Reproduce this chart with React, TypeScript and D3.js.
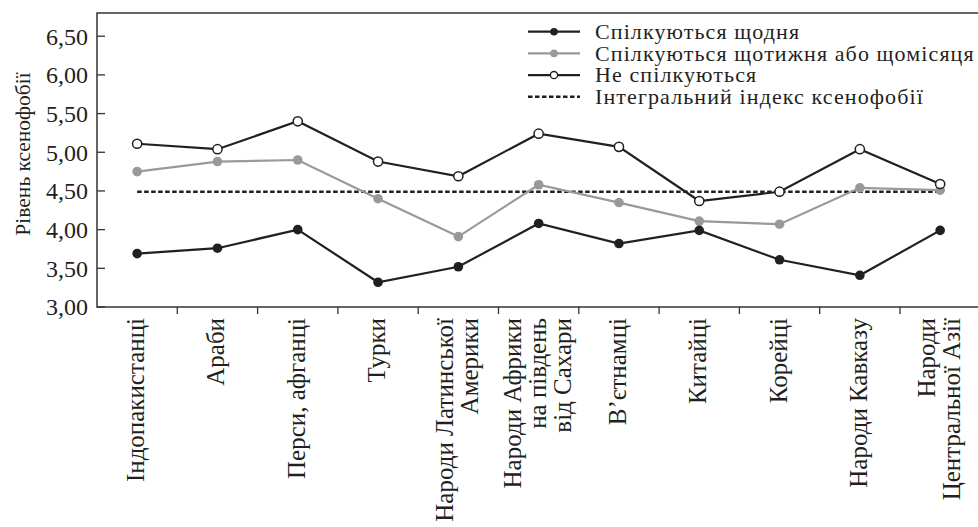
import * as d3 from 'd3';

const categories = [
  'Індопакистанці',
  'Араби',
  'Перси, афганці',
  'Турки',
  'Народи Латинської\nАмерики',
  'Народи Африки\nна південь\nвід Сахари',
  'В’єтнамці',
  'Китайці',
  'Корейці',
  'Народи Кавказу',
  'Народи\nЦентральної Азії',
];

const daily = [3.69, 3.76, 4.0, 3.32, 3.52, 4.08, 3.82, 3.99, 3.61, 3.41, 3.99];
const weekly = [4.75, 4.88, 4.9, 4.4, 3.91, 4.58, 4.35, 4.11, 4.07, 4.54, 4.51];
const never = [5.11, 5.04, 5.4, 4.88, 4.69, 5.24, 5.07, 4.37, 4.49, 5.04, 4.59];
const integralIndex = 4.49;

const yTicks = [3.0, 3.5, 4.0, 4.5, 5.0, 5.5, 6.0, 6.5];

const legendItems = [
  { label: 'Спілкуються щодня', kind: 'daily' },
  { label: 'Спілкуються щотижня або щомісяця', kind: 'weekly' },
  { label: 'Не спілкуються', kind: 'never' },
  { label: 'Інтегральний індекс ксенофобії', kind: 'index' },
];

const W = 978;
const H = 527;
const left = 97;
const top = 13;
const bottom = 307;
const bandW = 80.3;
const FONT = "'Liberation Serif', 'DejaVu Serif', serif";
const DARK = '#231f20';
const GREY = '#999999';

export default function App() {
  const x = d3.scaleBand<string>()
    .domain(categories)
    .range([left, left + bandW * categories.length]);
  const y = d3.scaleLinear().domain([3, 6.8]).range([bottom, top]);
  const cx = (i: number) => (x(categories[i]) as number) + x.bandwidth() / 2;

  const line = d3.line<number>()
    .x((_, i) => cx(i))
    .y(d => y(d));

  const fmt = (v: number) => v.toFixed(2).replace('.', ',');

  return (
    <svg width={W} height={H} style={{ position: 'fixed', left: 0, top: 0, background: '#fff', fontFamily: FONT }}>
      {/* рамка */}
      <path d={`M${W},${top}H${left}V${bottom}H${W}`} fill="none" stroke="#333" strokeWidth={1.5} />

      {/* вісь Y */}
      {yTicks.map(t => (
        <g key={t}>
          <line x1={left} x2={left + 8} y1={y(t)} y2={y(t)} stroke="#333" strokeWidth={1.3} />
          <text x={88} y={y(t)} dy="0.35em" textAnchor="end" fontSize={24} fill={DARK}>{fmt(t)}</text>
        </g>
      ))}
      <text transform={`translate(23,154) rotate(-90)`} textAnchor="middle" dominantBaseline="central"
        fontSize={21.5} fill={DARK}>Рівень ксенофобії</text>

      {/* вісь X: поділки та підписи */}
      {categories.map((c, i) => (
        i > 0 ? <line key={'t' + c} x1={x(c)} x2={x(c)} y1={bottom} y2={bottom + 7} stroke="#333" strokeWidth={1.3} /> : null
      ))}
      {categories.map((c, i) => {
        const lines = c.split('\n');
        return lines.map((ln, j) => {
          const off = (j - (lines.length - 1) / 2) * 25;
          return (
            <text key={c + j} transform={`translate(${cx(i) + off - 1.5},318) rotate(-90)`}
              textAnchor="end" dominantBaseline="central" fontSize={25} fill={DARK}>{ln}</text>
          );
        });
      })}

      {/* інтегральний індекс */}
      <line x1={cx(0)} x2={cx(categories.length - 1)} y1={y(integralIndex)} y2={y(integralIndex)}
        stroke={DARK} strokeWidth={2.5} strokeDasharray="4.5 2.5" />

      {/* серії */}
      <path d={line(weekly) as string} fill="none" stroke={GREY} strokeWidth={2.2} />
      {weekly.map((v, i) => <circle key={'w' + i} cx={cx(i)} cy={y(v)} r={4.8} fill={GREY} />)}

      <path d={line(daily) as string} fill="none" stroke={DARK} strokeWidth={2.2} />
      {daily.map((v, i) => <circle key={'d' + i} cx={cx(i)} cy={y(v)} r={4.8} fill={DARK} />)}

      <path d={line(never) as string} fill="none" stroke={DARK} strokeWidth={2.2} />
      {never.map((v, i) => <circle key={'n' + i} cx={cx(i)} cy={y(v)} r={4.6} fill="#fff" stroke={DARK} strokeWidth={1.5} />)}

      {/* легенда */}
      {legendItems.map((it, i) => {
        const ly = 31.7 + i * 21.7;
        const col = it.kind === 'weekly' ? GREY : DARK;
        return (
          <g key={it.kind}>
            {it.kind === 'index'
              ? <line x1={528} x2={580} y1={ly} y2={ly} stroke={DARK} strokeWidth={2.5} strokeDasharray="4.5 2.5" />
              : <line x1={528} x2={580} y1={ly} y2={ly} stroke={col} strokeWidth={2.2} />}
            {it.kind === 'never' && <circle cx={554} cy={ly} r={3.6} fill="#fff" stroke={DARK} strokeWidth={1.3} />}
            {(it.kind === 'daily' || it.kind === 'weekly') && <circle cx={554} cy={ly} r={3.8} fill={col} />}
            <text x={595} y={ly} dy="0.33em" fontSize={22} letterSpacing={1.1} fill={DARK}>{it.label}</text>
          </g>
        );
      })}
    </svg>
  );
}
